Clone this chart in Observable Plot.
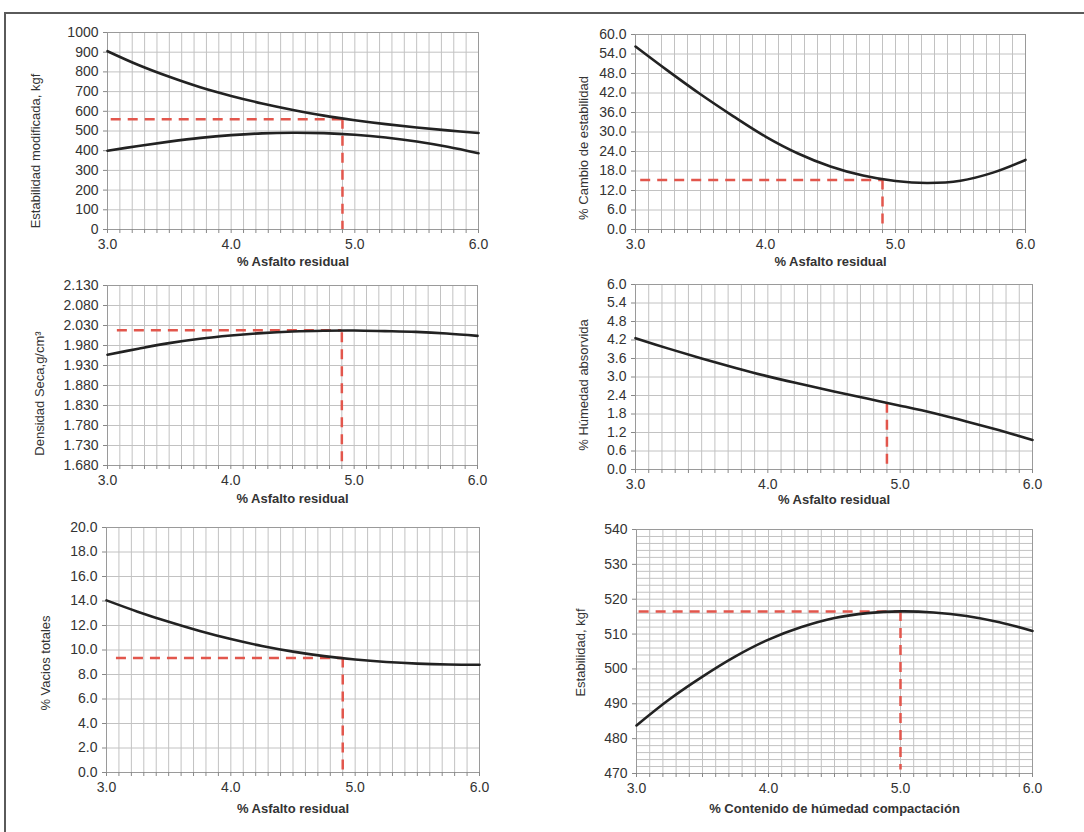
<!DOCTYPE html>
<html>
<head>
<meta charset="utf-8">
<script src="https://cdn.jsdelivr.net/npm/d3@7"></script>
<script src="https://cdn.jsdelivr.net/npm/@observablehq/plot@0.6"></script>
<style>
  html, body { margin: 0; padding: 0; background: #fff; }
  #root { position: relative; width: 1084px; height: 832px; overflow: hidden; background: #fff; }
  .frameTop { position: absolute; left: 4px; top: 12px; width: 1080px; height: 0; border-top: 2px solid #5a5a5a; }
  .frameLeft { position: absolute; left: 4px; top: 12px; width: 0; height: 820px; border-left: 2px solid #5a5a5a; }
  .panel { position: absolute; }
</style>
</head>
<body>
<div id="root">
  <div class="frameTop"></div>
  <div class="frameLeft"></div>
</div>
<script>
// ---------------- DATA ----------------
const xAsfalto = [3.0, 3.25, 3.5, 3.75, 4.0, 4.25, 4.5, 4.75, 5.0, 5.25, 5.5, 5.75, 6.0];
const xHumedad = [3.0, 3.25, 3.5, 3.75, 4.0, 4.25, 4.5, 4.75, 5.0, 5.25, 5.5, 5.75, 6.0];

const estabModSuperior = [905, 835, 775, 722, 678, 640, 607, 578, 555, 535, 518, 503, 490];
const estabModInferior = [400, 424, 446, 465, 479, 488, 491, 489, 481, 467, 447, 420, 387];
const cambioEstabilidad = [56.3, 48.8, 41.6, 34.9, 28.6, 23.4, 19.4, 16.6, 14.9, 14.3, 15.0, 17.5, 21.4];
const densidadSeca = [1.957, 1.972, 1.986, 1.997, 2.005, 2.011, 2.015, 2.017, 2.0175, 2.016, 2.014, 2.010, 2.004];
const humedadAbsorvida = [4.26, 3.92, 3.60, 3.30, 3.02, 2.77, 2.53, 2.30, 2.07, 1.83, 1.56, 1.27, 0.96];
const vaciosTotales = [14.05, 13.13, 12.30, 11.55, 10.89, 10.33, 9.87, 9.50, 9.22, 9.02, 8.89, 8.82, 8.80];
const estabilidad = [483.8, 491.3, 497.8, 503.6, 508.4, 512.0, 514.6, 516.0, 516.5, 516.2, 515.2, 513.4, 510.9];

// guide lines (dashed red): horizontal [y, xStart, xEnd], vertical [x, yTop, yBottom]
const guia1H = [560, 3.03, 4.9],   guia1V = [4.9, 560, 0];
const guia2H = [15.2, 3.04, 4.9],  guia2V = [4.9, 15.2, 0];
const guia3H = [2.018, 3.08, 4.9], guia3V = [4.9, 2.012, 1.68];
const guia4H = null,               guia4V = [4.9, 2.15, 0];
const guia5H = [9.35, 3.08, 4.9],  guia5V = [4.9, 9.35, 0];
const guia6H = [516.5, 3.02, 5.0], guia6V = [5.0, 516.5, 471];

// tick labels
const xTickLabels = [3.0, 4.0, 5.0, 6.0];
const xMinorTicks = d3.range(30, 61).map(d => d / 10);
const yTicks1 = [0, 100, 200, 300, 400, 500, 600, 700, 800, 900, 1000];
const yTicks2 = [0, 6, 12, 18, 24, 30, 36, 42, 48, 54, 60];
const yTicks3 = [1.68, 1.73, 1.78, 1.83, 1.88, 1.93, 1.98, 2.03, 2.08, 2.13];
const yTicks4 = [0, 0.6, 1.2, 1.8, 2.4, 3.0, 3.6, 4.2, 4.8, 5.4, 6.0];
const yTicks5 = [0, 2, 4, 6, 8, 10, 12, 14, 16, 18, 20];
const yTicks6 = [470, 480, 490, 500, 510, 520, 530, 540];
const yGrid6 = d3.range(470, 541, 2);

// ---------------- RENDER ----------------
const root = document.getElementById("root");
const FONT = "'Liberation Sans', Arial, sans-serif";

function panel(cfg) {
  const {box, area} = cfg;
  const marginLeft = area.x0 - box.left;
  const marginRight = box.left + box.width - area.x1;
  const marginTop = area.y0 - box.top;
  const marginBottom = box.top + box.height - area.y1;
  const marks = [
    Plot.gridX(xMinorTicks, {stroke: "#c2c2c2", strokeOpacity: 1}),
    Plot.gridY(cfg.yGrid || cfg.yTicks, {stroke: "#c2c2c2", strokeOpacity: 1}),
    Plot.frame({stroke: "#9a9a9a"}),
    Plot.axisX({
      ticks: xMinorTicks,
      tickFormat: d => xTickLabels.some(t => Math.abs(t - d) < 1e-9) ? d.toFixed(1) : "",
      tickSize: 4, tickPadding: 6, stroke: "#888", fill: "#333", fontSize: 14, label: null
    }),
    Plot.axisY({
      ticks: cfg.yTicks, tickFormat: cfg.yFormat,
      tickSize: 4, tickPadding: 5, stroke: "#888", fill: "#333", fontSize: 14, label: null
    })
  ];
  if (cfg.guiaH) {
    const [y, x1, x2] = cfg.guiaH;
    marks.push(Plot.ruleY([{y, x1, x2}], {y: "y", x1: "x1", x2: "x2", stroke: "#e2564c", strokeWidth: 2.5, strokeDasharray: "10,7"}));
  }
  if (cfg.guiaV) {
    const [x, y1, y2] = cfg.guiaV;
    marks.push(Plot.ruleX([{x, y1, y2}], {x: "x", y1: "y1", y2: "y2", stroke: "#e2564c", strokeWidth: 2.5, strokeDasharray: "10,7"}));
  }
  for (const s of cfg.series) {
    marks.push(Plot.line(cfg.x.map((x, i) => ({x, y: s[i]})), {
      x: "x", y: "y", curve: "catmull-rom", stroke: "#222", strokeWidth: 2.6
    }));
  }
  marks.push(Plot.text([cfg.yLabel], {
    text: d => d, frameAnchor: "left", textAnchor: "middle", lineAnchor: "middle",
    dx: cfg.yLabelDx, dy: cfg.yLabelDy, rotate: -90,
    fontSize: 13, fill: "#333"
  }));
  marks.push(Plot.text([cfg.xLabel], {
    text: d => d, frameAnchor: "bottom", textAnchor: "middle", lineAnchor: "middle",
    dy: cfg.xLabelDy, fontSize: 13, fontWeight: "bold", fill: "#333"
  }));

  const svg = Plot.plot({
    width: box.width, height: box.height,
    marginLeft, marginRight, marginTop, marginBottom,
    style: {fontFamily: FONT, fontSize: "13px", background: "transparent", overflow: "visible"},
    x: {domain: [3, 6]},
    y: {domain: cfg.yDomain},
    marks
  });
  const wrap = document.createElement("div");
  wrap.className = "panel";
  wrap.style.left = box.left + "px";
  wrap.style.top = box.top + "px";
  wrap.appendChild(svg);
  root.appendChild(wrap);
}

const fmt0 = d3.format("d"), fmt1 = d3.format(".1f"), fmt3 = d3.format(".3f");

panel({
  box: {left: 10, top: 16, width: 530, height: 262},
  area: {x0: 107, x1: 478, y0: 32, y1: 229},
  x: xAsfalto, series: [estabModSuperior, estabModInferior],
  yDomain: [0, 1000], yTicks: yTicks1, yFormat: fmt0,
  guiaH: guia1H, guiaV: guia1V,
  yLabel: "Estabilidad modificada, kgf", yLabelDx: -72, yLabelDy: 20,
  xLabel: "% Asfalto residual", xLabelDy: 32
});
panel({
  box: {left: 540, top: 16, width: 540, height: 262},
  area: {x0: 635, x1: 1025, y0: 34, y1: 229},
  x: xAsfalto, series: [cambioEstabilidad],
  yDomain: [0, 60], yTicks: yTicks2, yFormat: fmt1,
  guiaH: guia2H, guiaV: guia2V,
  yLabel: "% Cambio de estabilidad", yLabelDx: -52, yLabelDy: 16,
  xLabel: "% Asfalto residual", xLabelDy: 32
});
panel({
  box: {left: 10, top: 272, width: 530, height: 242},
  area: {x0: 107, x1: 477, y0: 285, y1: 465},
  x: xAsfalto, series: [densidadSeca],
  yDomain: [1.68, 2.13], yTicks: yTicks3, yFormat: fmt3,
  guiaH: guia3H, guiaV: guia3V,
  yLabel: "Densidad Seca,g/cm³", yLabelDx: -68, yLabelDy: 18,
  xLabel: "% Asfalto residual", xLabelDy: 33
});
panel({
  box: {left: 540, top: 272, width: 540, height: 242},
  area: {x0: 635, x1: 1032, y0: 284, y1: 469},
  x: xAsfalto, series: [humedadAbsorvida],
  yDomain: [0, 6], yTicks: yTicks4, yFormat: fmt1,
  guiaH: guia4H, guiaV: guia4V,
  yLabel: "% Húmedad absorvida", yLabelDx: -52, yLabelDy: 8,
  xLabel: "% Asfalto residual", xLabelDy: 30
});
panel({
  box: {left: 10, top: 516, width: 530, height: 312},
  area: {x0: 106, x1: 479, y0: 527, y1: 772},
  x: xAsfalto, series: [vaciosTotales],
  yDomain: [0, 20], yTicks: yTicks5, yFormat: fmt1,
  guiaH: guia5H, guiaV: guia5V,
  yLabel: "% Vacios totales", yLabelDx: -61, yLabelDy: 13,
  xLabel: "% Asfalto residual", xLabelDy: 36
});
panel({
  box: {left: 540, top: 516, width: 540, height: 312},
  area: {x0: 636, x1: 1032, y0: 529, y1: 773},
  x: xHumedad, series: [estabilidad],
  yDomain: [470, 540], yTicks: yTicks6, yGrid: yGrid6, yFormat: fmt0,
  guiaH: guia6H, guiaV: guia6V,
  yLabel: "Estabilidad, kgf", yLabelDx: -56, yLabelDy: 1,
  xLabel: "% Contenido de húmedad compactación", xLabelDy: 35
});
</script>
</body>
</html>
